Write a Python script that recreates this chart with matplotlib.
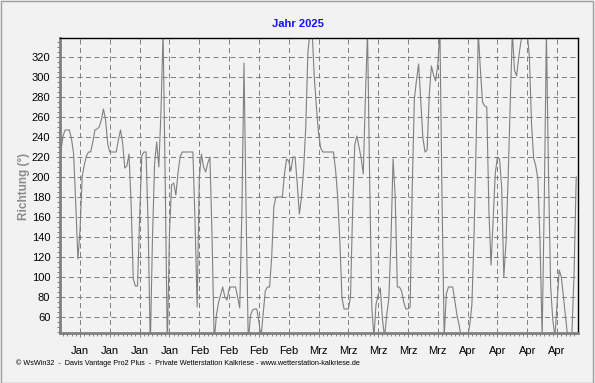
import numpy as np
import pandas as pd
import matplotlib
matplotlib.use("Agg")
import matplotlib.pyplot as plt
import matplotlib.dates as mdates
from matplotlib.ticker import MultipleLocator, FuncFormatter
from matplotlib.patches import Rectangle

# Windrichtung (Grad), 12-Stunden-Werte ab 31.12.2024 12:00
richtung = [
    225, 241, 247, 247, 247, 238, 223, 173, 118, 147,
    200, 212, 221, 225, 225, 235, 247, 248, 250, 257,
    268, 257, 233, 225, 225, 225, 225, 237, 247, 234,
    209, 211, 223, 172, 98, 91, 91, 160, 221, 225,
    225, 150, 30, 137, 213, 235, 210, 265, 345, 195,
    30, 144, 192, 194, 182, 204, 220, 225, 225, 225,
    225, 225, 225, 156, 70, 199, 223, 210, 205, 214,
    220, 140, 35, 61, 74, 82, 90, 80, 77, 88,
    90, 90, 90, 80, 69, 165, 314, 163, 35, 61,
    67, 68, 68, 55, 40, 63, 86, 90, 90, 120,
    170, 180, 180, 180, 180, 203, 218, 216, 206, 220,
    220, 193, 163, 180, 208, 250, 325, 345, 345, 300,
    270, 244, 229, 225, 225, 225, 225, 225, 225, 207,
    180, 136, 79, 68, 68, 68, 80, 166, 232, 241,
    230, 219, 203, 280, 345, 198, 70, 40, 73, 82,
    89, 58, 40, 62, 78, 136, 218, 180, 90, 90,
    86, 75, 68, 68, 70, 190, 278, 297, 313, 276,
    239, 225, 227, 283, 311, 302, 296, 313, 345, 175,
    40, 83, 90, 90, 90, 76, 62, 52, 40, 40,
    40, 40, 52, 72, 140, 234, 345, 307, 275, 271,
    270, 165, 112, 158, 204, 220, 218, 189, 100, 134,
    197, 273, 345, 307, 301, 320, 335, 345, 345, 345,
    320, 254, 219, 211, 198, 135, 40, 176, 345, 200,
    90, 57, 40, 74, 107, 100, 80, 60, 40, 40,
    45, 104, 200,
]
start = "2024-12-31 12:00"
monate = {1: "Jan", 2: "Feb", 3: "Mrz", 4: "Apr", 5: "Mai"}
y_ticks = list(range(60, 321, 20))

zeit = pd.date_range(start, periods=len(richtung), freq="12h")

fig = plt.figure(figsize=(5.95, 3.83), dpi=100)
fig.patch.set_facecolor("#f2f2f2")
# Rahmen
fig.add_artist(Rectangle((0.5 / 595, 0.5 / 383), 592 / 595, 381.5 / 383,
                         transform=fig.transFigure, fill=False,
                         edgecolor="#a0a0a0", linewidth=1))

ax = fig.add_axes([60 / 595, 1 - 333 / 383, 518 / 595, 295 / 383])
ax.set_facecolor("#f2f2f2")
ax.plot(zeit, richtung, color="#808080", linewidth=0.8)

t0 = pd.Timestamp("2024-12-31 07:10")
t1 = pd.Timestamp("2025-05-01 22:00")
ax.set_xlim(t0, t1)
ax.set_ylim(44, 339)

ax.xaxis.set_major_locator(mdates.WeekdayLocator(byweekday=mdates.SU))
ax.xaxis.set_minor_locator(mdates.DayLocator())
ax.xaxis.set_major_formatter(FuncFormatter(
    lambda v, p: monate[mdates.num2date(v).month]))
ax.set_yticks(y_ticks)
ax.yaxis.set_minor_locator(MultipleLocator(5))

ax.grid(True, which="major", color="#808080", linestyle=(0, (5, 3.5)),
        linewidth=0.72)

for s in ["left", "bottom"]:
    ax.spines[s].set_color("#808080")
    ax.spines[s].set_linewidth(2)
for s in ["top", "right"]:
    ax.spines[s].set_color("black")
    ax.spines[s].set_linewidth(1)

ax.tick_params(which="major", length=3, width=0.72, color="#808080",
               labelsize=8, pad=4)
ax.tick_params(which="minor", length=2, width=0.72, color="#808080")
for lab in ax.get_xticklabels() + ax.get_yticklabels():
    lab.set_family("Liberation Sans")
ax.tick_params(axis="x", which="major", pad=6)

fig.text(298 / 595, 1 - 24 / 383, "Jahr 2025", color="#1010ff",
         fontsize=8, fontweight="bold", family="Liberation Sans",
         ha="center", va="center")
fig.text(24 / 595, 1 - 186 / 383, "Richtung (°)", color="#8c8c8c",
         fontsize=8.5, fontweight="bold", family="Liberation Sans",
         rotation=90, ha="center", va="center")
fig.text(16 / 595, 1 - 363 / 383,
         "© WsWin32  -  Davis Vantage Pro2 Plus  -  Private Wetterstation "
         "Kalkriese - www.wetterstation-kalkriese.de",
         fontsize=5.2, family="Liberation Sans", ha="left", va="center")

fig.savefig("out.png", dpi=100, facecolor=fig.get_facecolor())
